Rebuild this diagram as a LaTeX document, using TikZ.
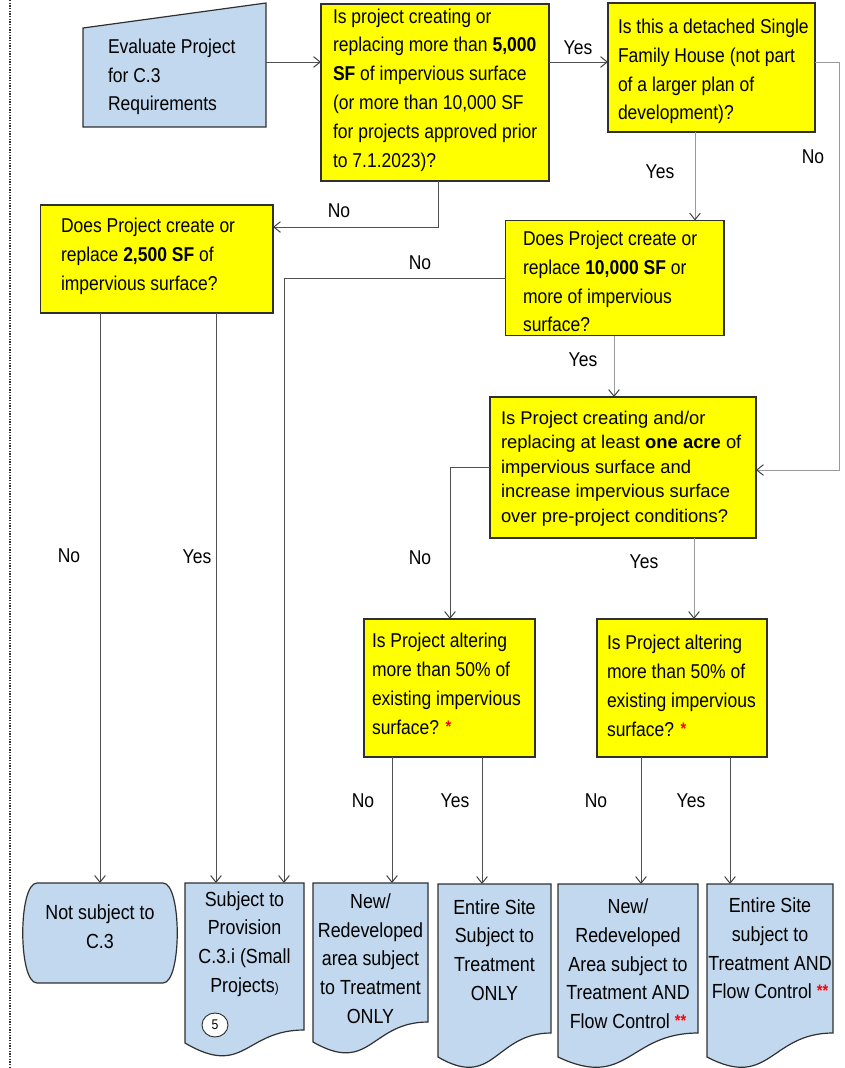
\documentclass[tikz,border=0pt]{standalone}
\usepackage{fontspec}
\setmainfont{Liberation Sans}[FakeStretch=0.875]
\newfontfamily\widefont{Liberation Sans}
\usetikzlibrary{arrows.meta,calc,shapes.geometric}
\definecolor{qyellow}{HTML}{FFFF00}
\definecolor{tblue}{HTML}{C2D8EE}
\definecolor{linedark}{HTML}{505050}
\definecolor{linegray}{HTML}{9A9A9A}
\definecolor{edgecol}{HTML}{303030}
\newcommand{\redstar}[1]{\textcolor{red}{\raisebox{1.5pt}{\fontsize{12.5}{12.5}\selectfont\bfseries #1}}}
\begin{document}
\begin{tikzpicture}[x=0.75pt,y=-0.75pt,
  qbox/.style={draw=edgecol, line width=0.9pt, fill=qyellow, inner sep=0, outer sep=0},
  shapebox/.style={inner sep=0, outer sep=0},
  bluefill/.style={draw=edgecol, line width=0.9pt, fill=tblue},
  txt/.style={font=\fontsize{15}{21.6}\selectfont, align=left, inner sep=0, outer sep=0, anchor=west},
  wtxt/.style={font=\widefont\fontsize{13.8}{18.4}\selectfont, align=left, inner sep=0, outer sep=0, anchor=west},
  btxt/.style={font=\fontsize{15.3}{21.5}\selectfont, align=center, inner sep=0, outer sep=0},
  lab/.style={font=\fontsize{15}{18}\selectfont, inner sep=0},
  arr/.style={draw=linedark, line width=0.75pt, -{Straight Barb[length=5pt,width=8pt,color=black!75]}},
  arrg/.style={draw=linegray, line width=0.75pt, -{Straight Barb[length=5pt,width=8pt,color=black!75]}}]
\useasboundingbox (0,0) rectangle (844,1068);

% left dotted rule
\draw[line width=1.1pt, dash pattern=on 1pt off 1pt, black!80] (10,0) -- (10,1068);

% start: manual input shape
\node[shapebox, minimum width=183*0.75pt, minimum height=124*0.75pt] (ev) at (174.5,65) {};
\draw[bluefill] (ev.south west) -- (ev.south east) -- (ev.north east) -- ($(ev.north west)+(0,25)$) -- cycle;
\node[txt] (evt) at (108,77) {Evaluate Project\\for C.3\\Requirements};

% decision boxes
\node[qbox, minimum width=228*0.75pt, minimum height=177*0.75pt] (q1) at (435,92.5) {};
\node[txt] (q1t) at (333,90) {Is project creating or\\replacing more than \textbf{5,000}\\\textbf{SF} of impervious surface\\(or more than 10,000 SF\\for projects approved prior\\to 7.1.2023)?};

\node[qbox, minimum width=207*0.75pt, minimum height=129*0.75pt] (q2) at (711.5,67.5) {};
\node[txt] (q2t) at (618,71.5) {Is this a detached Single\\Family House (not part\\of a larger plan of\\development)?};

\node[qbox, minimum width=232.5*0.75pt, minimum height=108*0.75pt] (qL) at (156.75,259) {};
\node[txt] (qLt) at (61,256.5) {Does Project create or\\replace \textbf{2,500 SF} of\\impervious surface?};

\node[qbox, minimum width=218.5*0.75pt, minimum height=115*0.75pt] (q3) at (614.75,278) {};
\node[txt] (q3t) at (523,281.5) {Does Project create or\\replace \textbf{10,000 SF} or\\more of impervious\\surface?};

\node[qbox, minimum width=266*0.75pt, minimum height=141*0.75pt] (q4) at (623,467.5) {};
\node[wtxt] (q4t) at (501,468.5) {Is Project creating and/or\\replacing at least \textbf{one acre} of\\impervious surface and\\increase impervious surface\\over pre-project conditions?};

\node[qbox, minimum width=171*0.75pt, minimum height=138*0.75pt] (q5) at (449.5,688) {};
\node[txt] (q5t) at (372,684) {Is Project altering\\more than 50\% of\\existing impervious\\surface? \redstar{*}};

\node[qbox, minimum width=170*0.75pt, minimum height=138*0.75pt] (q6) at (682,688) {};
\node[txt] (q6t) at (607,686) {Is Project altering\\more than 50\% of\\existing impervious\\surface? \redstar{*}};

% terminal: not subject
\node[shapebox, minimum width=154*0.75pt, minimum height=100*0.75pt] (nb) at (100,933) {};
\draw[bluefill] ($(nb.north west)+(14,0)$) -- ($(nb.north east)+(-14,0)$)
  .. controls ($(nb.north east)+(5,0)$) and ($(nb.south east)+(5,0)$) .. ($(nb.south east)+(-14,0)$)
  -- ($(nb.south west)+(14,0)$)
  .. controls ($(nb.south west)+(-5,0)$) and ($(nb.north west)+(-5,0)$) .. cycle;
\node[btxt] (nbt) at (100,926.5) {Not subject to\\C.3};

% document shapes
\node[shapebox, minimum width=119*0.75pt, minimum height=147*0.75pt] (dPb) at (244.5,956.5) {};
\draw[bluefill] (dPb.north west) -- (dPb.north east) -- (dPb.south east)
  .. controls (dPb.south) and ($(dPb.south)+(0,48)$) .. ($(dPb.south west)+(0,13)$) -- cycle;
\node[btxt] (dPt) at (244.5,944) {Subject to\\Provision\\C.3.i (Small\\Projects{\fontsize{10}{10}\selectfont)}};
\node[ellipse, draw=edgecol, fill=white, line width=0.7pt, minimum width=26*0.75pt, minimum height=24*0.75pt, inner sep=0, font=\fontsize{10.5}{10.5}\selectfont] (c5) at (215,1025) {5};

\node[shapebox, minimum width=115*0.75pt, minimum height=139*0.75pt] (d3b) at (370.5,952.5) {};
\draw[bluefill] (d3b.north west) -- (d3b.north east) -- (d3b.south east)
  .. controls (d3b.south) and ($(d3b.south)+(0,53)$) .. ($(d3b.south west)+(0,20)$) -- cycle;
\node[btxt] (d3t) at (370.5,958.5) {New/\\Redeveloped\\area subject\\to Treatment\\ONLY};

\node[shapebox, minimum width=113*0.75pt, minimum height=149*0.75pt] (d4b) at (494.5,958.5) {};
\draw[bluefill] (d4b.north west) -- (d4b.north east) -- (d4b.south east)
  .. controls (d4b.south) and ($(d4b.south)+(0,57)$) .. ($(d4b.south west)+(0,24)$) -- cycle;
\node[btxt] (d4t) at (494.5,950) {Entire Site\\Subject to\\Treatment\\ONLY};

\node[shapebox, minimum width=140*0.75pt, minimum height=149*0.75pt] (d5b) at (628,958.5) {};
\draw[bluefill] (d5b.north west) -- (d5b.north east) -- (d5b.south east)
  .. controls (d5b.south) and ($(d5b.south)+(0,57)$) .. ($(d5b.south west)+(0,24)$) -- cycle;
\node[btxt] (d5t) at (628,964) {New/\\Redeveloped\\Area subject to\\Treatment AND\\Flow Control \redstar{**}};

\node[shapebox, minimum width=126*0.75pt, minimum height=149*0.75pt] (d6b) at (770,958.5) {};
\draw[bluefill] (d6b.north west) -- (d6b.north east) -- (d6b.south east)
  .. controls (d6b.south) and ($(d6b.south)+(0,57)$) .. ($(d6b.south west)+(0,24)$) -- cycle;
\node[btxt] (d6t) at (770,948.5) {Entire Site\\subject to\\Treatment AND\\Flow Control \redstar{**}};

% helper coordinates
\coordinate (h62) at (0,62);
\coordinate (w1) at (839,62);
\coordinate (w2) at (839,470);
\coordinate (w3) at (438,227);
\coordinate (w4) at (284,278);
\coordinate (w5) at (450,467.5);
\coordinate (v695) at (695,0);
\coordinate (v614) at (614,0);
\coordinate (v694) at (694,0);
\coordinate (v392) at (392,0);
\coordinate (v482) at (482,0);
\coordinate (v641) at (641,0);
\coordinate (v730) at (730,0);
\coordinate (v216) at (216,0);

% connectors
\draw[arr] (ev.east |- h62) -- (q1.west |- h62);
\draw[arr] (q1.east |- h62) -- (q2.west |- h62);
\draw[arrg] (q2.east |- h62) -- (w1) -- (w2) -- (q4.east |- w2);
\draw[arrg] (q2.south -| v695) -- (q3.north -| v695);
\draw[arr] (q1.south -| w3) -- (w3) -- (qL.east |- w3);
\draw[arr] (q3.west |- w4) -- (w4) -- (dPb.north -| w4);
\draw[arrg] (q3.south -| v614) -- (q4.north -| v614);
\draw[arr] (q4.west |- w5) -- (w5) -- (q5.north -| w5);
\draw[arrg] (q4.south -| v694) -- (q6.north -| v694);
\draw[arr] (q5.south -| v392) -- (d3b.north -| v392);
\draw[arr] (q5.south -| v482) -- (d4b.north -| v482);
\draw[arr] (q6.south -| v641) -- (d5b.north -| v641);
\draw[arr] (q6.south -| v730) -- (d6b.north -| v730);
\draw[arr] (qL.south -| nb.north) -- (nb.north);
\draw[arr] (qL.south -| v216) -- (dPb.north -| v216);

% labels
\node[lab] (l1) at (578,48) {Yes};
\node[lab] (l2) at (813,157) {No};
\node[lab] (l3) at (660,172) {Yes};
\node[lab] (l4) at (339,211) {No};
\node[lab] (l5) at (420,263) {No};
\node[lab] (l6) at (583,360) {Yes};
\node[lab] (l7) at (420,558) {No};
\node[lab] (l8) at (644,562) {Yes};
\node[lab] (l9) at (69,556) {No};
\node[lab] (l10) at (197,557) {Yes};
\node[lab] (l11) at (363,801) {No};
\node[lab] (l12) at (455,801) {Yes};
\node[lab] (l13) at (596,801) {No};
\node[lab] (l14) at (691,801) {Yes};
\end{tikzpicture}
\end{document}
